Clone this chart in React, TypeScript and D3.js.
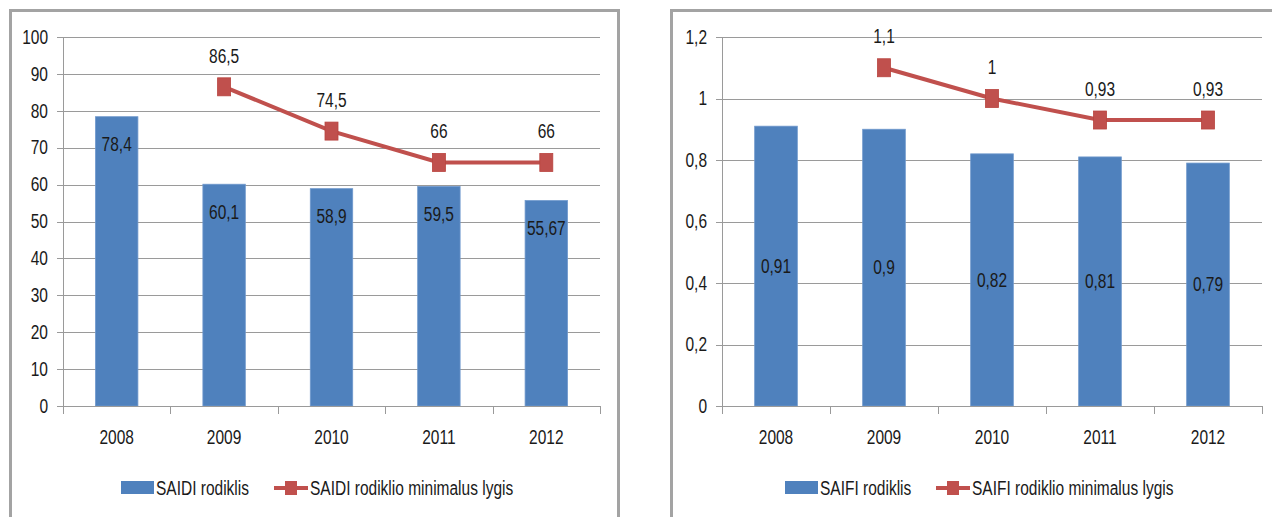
import React from "react";
import * as d3 from "d3";

const years = ["2008", "2009", "2010", "2011", "2012"];
const saidiValues = [78.4, 60.1, 58.9, 59.5, 55.67];
const saidiMin: (number | null)[] = [null, 86.5, 74.5, 66, 66];
const saidiTicks = [0, 10, 20, 30, 40, 50, 60, 70, 80, 90, 100];
const saifiValues = [0.91, 0.9, 0.82, 0.81, 0.79];
const saifiMin: (number | null)[] = [null, 1.1, 1, 0.93, 0.93];
const saifiTicks = [0, 0.2, 0.4, 0.6, 0.8, 1, 1.2];
const saidiLegend = ["SAIDI rodiklis", "SAIDI rodiklio minimalus lygis"];
const saifiLegend = ["SAIFI rodiklis", "SAIFI rodiklio minimalus lygis"];

const BLUE = "#4F81BD";
const RED = "#C0504D";
const GRID = "#9A9A9A";
const FRAME = "#A3A3A3";
const FONT = "'Liberation Sans', Arial, sans-serif";
const SY = 1.3;

const fmt = (v: number) => String(+v.toFixed(2)).replace(".", ",");

function T({ x, y, children, anchor = "middle", size = 15.5 }: any) {
  return (
    <text
      transform={`translate(${x},${y}) scale(1,${SY})`}
      textAnchor={anchor}
      dominantBaseline="central"
      fontFamily={FONT}
      fontSize={size}
      fill="#1a1a1a"
    >
      {children}
    </text>
  );
}

function Chart({
  x0,
  x1,
  values,
  minValues,
  ticks,
  maxV,
  legend,
  labelMode,
  legendPos,
}: any) {
  const top = 37;
  const bottom = 406;
  const x = d3.scaleBand<string>().domain(years).range([x0, x1]).paddingInner(0).paddingOuter(0);
  const y = d3.scaleLinear().domain([0, maxV]).range([bottom, top]);
  const bw = x.bandwidth() * 0.395;
  const cx = (c: string) => (x(c) as number) + x.bandwidth() / 2;
  const pts = years
    .map((c, i) => [c, minValues[i]] as [string, number | null])
    .filter((d) => d[1] != null) as [string, number][];
  const line = d3
    .line<[string, number]>()
    .x((d) => cx(d[0]))
    .y((d) => y(d[1]));
  const bounds = d3.range(years.length + 1).map((i) => x0 + i * x.bandwidth());
  return (
    <g>
      {ticks.map((t: number) => (
        <g key={t}>
          <line x1={x0 - 6} x2={t === 0 ? x0 : x1} y1={Math.round(y(t)) + 0.5} y2={Math.round(y(t)) + 0.5} stroke={GRID} strokeWidth={1} />
          <T x={x0 - 15} y={y(t)} anchor="end">
            {fmt(t)}
          </T>
        </g>
      ))}
      {values.map((v: number, i: number) => (
        <rect key={i} x={cx(years[i]) - bw / 2} y={y(v)} width={bw} height={bottom - y(v)} fill={BLUE} stroke="#6F98CC" strokeWidth={0.8} />
      ))}
      <line x1={x0 + 0.5} x2={x0 + 0.5} y1={top} y2={bottom} stroke={GRID} />
      <line x1={x0} x2={x1} y1={bottom + 0.5} y2={bottom + 0.5} stroke={GRID} />
      {bounds.map((b, i) => (
        <line key={i} x1={Math.round(b) + 0.5} x2={Math.round(b) + 0.5} y1={bottom} y2={bottom + 8} stroke={GRID} />
      ))}
      {years.map((c) => (
        <T key={c} x={cx(c)} y={437}>
          {c}
        </T>
      ))}
      {values.map((v: number, i: number) => (
        <T key={"l" + i} x={cx(years[i])} y={labelMode === "insideEnd" ? y(v) + 28 : (y(v) + y(0)) / 2}>
          {fmt(v)}
        </T>
      ))}
      <path d={line(pts) || ""} fill="none" stroke={RED} strokeWidth={4} />
      {pts.map((d, i) => (
        <g key={"m" + i}>
          <rect x={cx(d[0]) - 6.5} y={y(d[1]) - 9} width={13} height={18} fill={RED} stroke="#B8443F" strokeWidth={0.8} />
          <T x={cx(d[0])} y={y(d[1]) - 31}>
            {fmt(d[1])}
          </T>
        </g>
      ))}
      {/* legend */}
      <rect x={legendPos[0]} y={481} width={33} height={13} fill={BLUE} />
      <T x={legendPos[0] + 35} y={488} anchor="start">
        {legend[0]}
      </T>
      <line x1={legendPos[1]} x2={legendPos[1] + 34} y1={488} y2={488} stroke={RED} strokeWidth={4} />
      <rect x={legendPos[1] + 17 - 6} y={481} width={12} height={14} fill={RED} />
      <T x={legendPos[1] + 36} y={488} anchor="start">
        {legend[1]}
      </T>
    </g>
  );
}

export default function App() {
  return (
    <svg width={1272} height={517} style={{ position: "absolute", left: 0, top: 0, background: "#fff" }}>
      <rect x={0} y={0} width={1272} height={517} fill="#fff" />
      <rect x={10.5} y={10.5} width={608} height={530} fill="#fff" stroke={FRAME} strokeWidth={3} />
      <rect x={671.5} y={10.5} width={640} height={530} fill="#fff" stroke={FRAME} strokeWidth={3} />
      <Chart
        x0={63}
        x1={600}
        values={saidiValues}
        minValues={saidiMin}
        ticks={saidiTicks}
        maxV={100}
        legend={saidiLegend}
        labelMode="insideEnd"
        legendPos={[121, 274]}
      />
      <Chart
        x0={722}
        x1={1262}
        values={saifiValues}
        minValues={saifiMin}
        ticks={saifiTicks}
        maxV={1.2}
        legend={saifiLegend}
        labelMode="center"
        legendPos={[785, 936]}
      />
    </svg>
  );
}
